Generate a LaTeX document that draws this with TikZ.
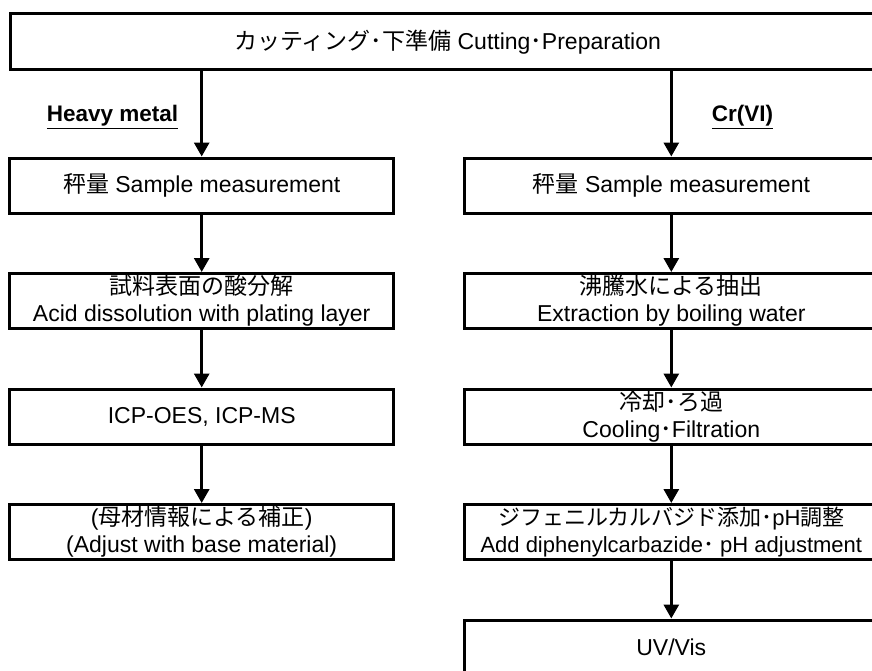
\documentclass[tikz,border=0pt]{standalone}
\usepackage{fontspec}
\setmainfont{Liberation Sans}
\newfontfamily\jp{Noto Sans CJK JP}
\usetikzlibrary{arrows.meta}
\tikzset{
  stepbox/.style={draw=black, line width=3pt, inner sep=0pt, align=center,
    minimum height=55pt, font=\fontsize{23}{27}\selectfont},
  leftbox/.style={stepbox, minimum width=383.5pt},
  rightbox/.style={stepbox, minimum width=414pt},
  arr/.style={line width=3pt, -{Triangle[width=15pt,length=14pt]}},
  branch/.style={font=\fontsize{22.5}{26}\selectfont\bfseries, inner sep=0pt}
}
\begin{document}
\begin{tikzpicture}[x=1pt,y=-1pt]
\useasboundingbox (0,0) rectangle (872,670);
\clip (0,0) rectangle (872,670);
\fill[white] (0,0) rectangle (872,670);
\node[stepbox, minimum width=875pt, minimum height=56.3pt] (top) at (447.5,41.8)
  {{\jp カッティング･下準備} Cutting{\jp ･}Preparation};
% left column
\node[leftbox] (L1) at (201.7,185.5) {{\jp 秤量} Sample measurement};
\node[leftbox] (L2) at (201.7,301) {{\jp 試料表面の酸分解}\\Acid dissolution with plating layer};
\node[leftbox] (L3) at (201.7,416.5) {ICP-OES, ICP-MS};
\node[leftbox] (L4) at (201.7,532) {({\jp 母材情報による補正})\\(Adjust with base material)};
% right column
\node[rightbox] (R1) at (671.3,185.5) {{\jp 秤量} Sample measurement};
\node[rightbox] (R2) at (671.3,301) {{\jp 沸騰水による抽出}\\Extraction by boiling water};
\node[rightbox] (R3) at (671.3,416.5) {{\jp 冷却･ろ過}\\Cooling{\jp ･}Filtration};
\node[rightbox, font=\fontsize{22}{27}\selectfont] (R4) at (671.3,532) {{\jp ジフェニルカルバジド添加･}pH{\jp 調整}\\Add diphenylcarbazide{\jp ･} pH adjustment};
\node[rightbox] (R5) at (671.3,647.5) {UV/Vis};
% branch labels
\node[branch] (hm) at (112.5,117) {\underline{Heavy metal}};
\node[branch] (cr) at (742.5,117) {\underline{Cr(VI)}};
% arrows
\draw[arr] (L1.north |- top.south) -- (L1.north);
\draw[arr] (L1) -- (L2);
\draw[arr] (L2) -- (L3);
\draw[arr] (L3) -- (L4);
\draw[arr] (R1.north |- top.south) -- (R1.north);
\draw[arr] (R1) -- (R2);
\draw[arr] (R2) -- (R3);
\draw[arr] (R3) -- (R4);
\draw[arr] (R4) -- (R5);
\end{tikzpicture}
\end{document}
